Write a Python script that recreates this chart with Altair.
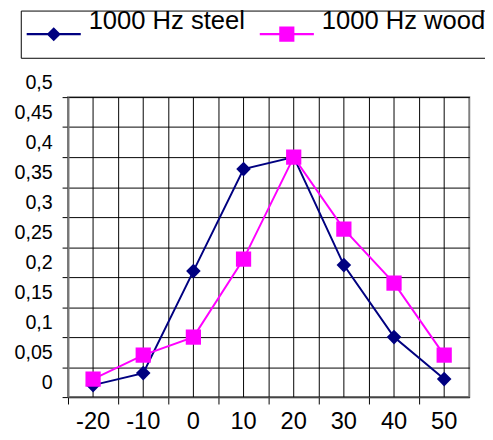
import altair as alt
import pandas as pd

temps = ['-20', '-10', '0', '10', '20', '30', '40', '50']
steel = [0.02, 0.04, 0.21, 0.38, 0.40, 0.22, 0.10, 0.03]
wood = [0.03, 0.07, 0.10, 0.23, 0.40, 0.28, 0.19, 0.07]
series_names = ['1000 Hz steel', '1000 Hz wood']
series_colors = ['#000080', '#ff00ff']
y_ticks = [0, 0.05, 0.1, 0.15, 0.2, 0.25, 0.3, 0.35, 0.4, 0.45, 0.5]

rows = []
for t, s, w in zip(temps, steel, wood):
    rows.append({'t': t, 'series': series_names[0], 'v': s})
    rows.append({'t': t, 'series': series_names[1], 'v': w})
df = pd.DataFrame(rows)
cat_df = pd.DataFrame({'t': temps})
legend_df = pd.DataFrame({'series': pd.Series([], dtype=str)})

xscale = alt.Scale(type='band', domain=temps, paddingInner=0, paddingOuter=0)
x_axis = alt.Axis(title=None, bandPosition=0, labelAngle=0,
                  grid=True, gridColor='black', gridWidth=1,
                  tickSize=7, tickColor='black', labelFontSize=24, labelPadding=6,
                  labelColor='black', domainColor='#444', domainWidth=1.5)
y_axis = alt.Axis(title=None, values=y_ticks,
                  labelExpr="replace(format(datum.value, '.2~f'), '.', ',')",
                  labelOffset=-15, grid=True, gridColor='black', gridWidth=1,
                  tickSize=6, tickColor='black', labelFontSize=20, labelPadding=10,
                  labelColor='black', domainColor='#777', domainWidth=2)

X = alt.X('t:O', scale=xscale, axis=x_axis, sort=temps)
Y = alt.Y('v:Q', scale=alt.Scale(domain=[0, 0.5], nice=False, zero=False), axis=y_axis)

color_scale = alt.Scale(domain=series_names, range=series_colors)

steel_sym = 'M-1,-0.04H1V0.04H-1ZM0,-0.26L0.26,0L0,0.26L-0.26,0Z'
wood_sym = 'M-1,-0.04H1V0.04H-1ZM-0.28,-0.28H0.28V0.28H-0.28Z'

legend = alt.Legend(
    title=None, orient='none', legendX=-48, legendY=-88, direction='horizontal',
    strokeColor='black', fillColor='white', padding=0, symbolSize=3025,
    clipHeight=48, symbolOffset=5, labelFontSize=26, labelLimit=400,
    labelOffset=7, columnPadding=9,
    labelBaseline='bottom', labelColor='black',
)

rules = alt.Chart(cat_df).mark_rule(color='black', strokeWidth=1).encode(x=X)

lines = alt.Chart(df).mark_line(strokeWidth=2).encode(
    x=X, y=Y,
    color=alt.Color('series:N', scale=color_scale, legend=None),
    detail='series:N',
)

points = alt.Chart(df).mark_point(filled=True, opacity=1).encode(
    x=X, y=Y,
    color=alt.Color('series:N', scale=color_scale, legend=None),
    shape=alt.Shape('series:N', scale=alt.Scale(domain=series_names, range=['diamond', 'square']), legend=None),
    size=alt.Size('series:N', scale=alt.Scale(domain=series_names, range=[220, 240]), legend=None),
)

legend_layer = alt.Chart(legend_df).mark_point(size=3025, filled=True, opacity=1).encode(
    color=alt.Color('series:N', scale=color_scale, legend=legend),
    shape=alt.Shape('series:N', scale=alt.Scale(domain=series_names, range=[steel_sym, wood_sym]), legend=legend),
)

chart = alt.layer(rules, lines, points, legend_layer).resolve_scale(
    shape='independent', color='independent'
).properties(
    width=408, height=305,
    padding={'left': 61, 'top': 87, 'right': 16, 'bottom': 40},
    autosize='none',
).configure(font='Liberation Sans').configure_view(stroke='#808080', strokeWidth=2)

chart.save('out.html', embed_options={'renderer': 'svg', 'actions': False})
